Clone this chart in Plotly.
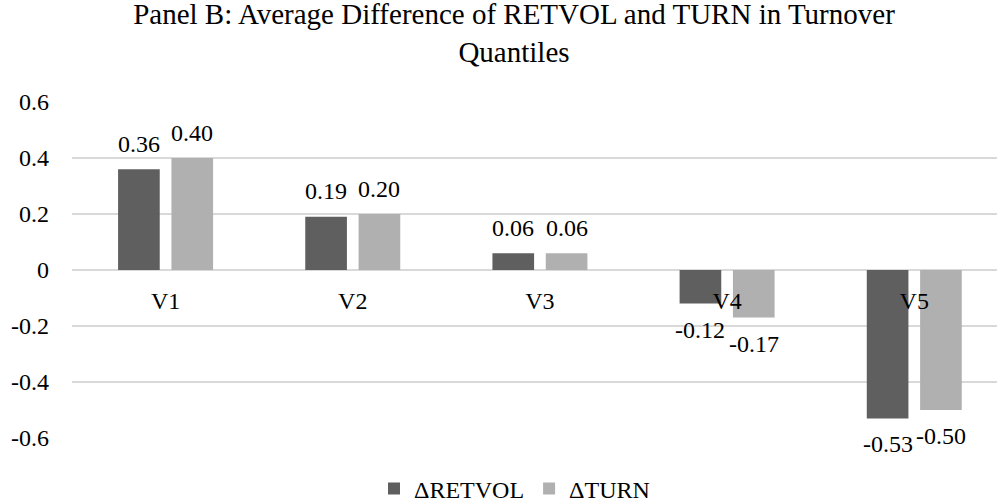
import plotly.graph_objects as go

categories = ["V1", "V2", "V3", "V4", "V5"]
retvol = [0.36, 0.19, 0.06, -0.12, -0.53]
turn = [0.40, 0.20, 0.06, -0.17, -0.50]
series_names = ["ΔRETVOL", "ΔTURN"]
colors = ["#5f5f5f", "#b0b0b0"]
y_ticks = [-0.6, -0.4, -0.2, 0, 0.2, 0.4, 0.6]
y_tick_text = ["-0.6", "-0.4", "-0.2", "0", "0.2", "0.4", "0.6"]
title_text = "Panel B: Average Difference of RETVOL and TURN in Turnover<br>Quantiles"

FONT = "Liberation Serif"
FS = 24
BARGAP = 0.43
BARGROUPGAP = 0.219

fig = go.Figure()
for name, vals, color in zip(series_names, [retvol, turn], colors):
    fig.add_trace(go.Bar(
        x=categories, y=vals, name=name,
        marker=dict(color=color, line=dict(width=0)),
        hoverinfo="skip",
    ))

# data labels, placed at each bar's centre within its group
slot = (1 - BARGAP) / 2
annotations = []
for k, vals in enumerate([retvol, turn]):
    off = (k - 0.5) * slot
    for i, v in enumerate(vals):
        pos = v >= 0
        annotations.append(dict(
            x=i + off, y=v, xref="x", yref="y", text=f"{v:.2f}", showarrow=False,
            xanchor="center", yanchor="bottom" if pos else "top",
            yshift=10.5 if pos else -11,
            font=dict(family=FONT, size=FS, color="#000000"),
        ))

fig.update_layout(
    width=997, height=502,
    margin=dict(l=71.6, r=0, t=101.7, b=63.7, pad=0, autoexpand=False),
    paper_bgcolor="white", plot_bgcolor="white",
    font=dict(family=FONT, size=FS, color="#000000"),
    title=dict(text=title_text,
               x=514 / 997, xanchor="center", xref="container",
               yref="container", y=1 - 24 / 502, yanchor="top",
               font=dict(family=FONT, size=29, color="#000000")),
    barmode="group", bargap=BARGAP, bargroupgap=BARGROUPGAP,
    showlegend=True,
    legend=dict(orientation="h", xref="container", x=514.5 / 997, xanchor="center",
                yref="container", y=1 - 489 / 502, yanchor="middle",
                font=dict(family=FONT, size=FS), itemwidth=30, tracegroupgap=0,
                bgcolor="rgba(0,0,0,0)"),
    annotations=annotations,
    xaxis=dict(range=[-0.5, 4.442], anchor="free", position=0.5,
               showline=False, showgrid=False, zeroline=False,
               ticks="", ticklabelstandoff=14, tickfont=dict(family=FONT, size=FS)),
    yaxis=dict(range=[-0.6, 0.6], tickvals=y_ticks, ticktext=y_tick_text,
               showgrid=True, gridcolor="#d9d9d9", gridwidth=1.5,
               zeroline=True, zerolinecolor="#d9d9d9", zerolinewidth=1.5,
               showline=False, ticks="", ticklabelstandoff=22,
               tickfont=dict(family=FONT, size=FS)),
)

fig.write_html("out.html", config={"displayModeBar": False},
               post_script="document.body.style.margin='0';")
